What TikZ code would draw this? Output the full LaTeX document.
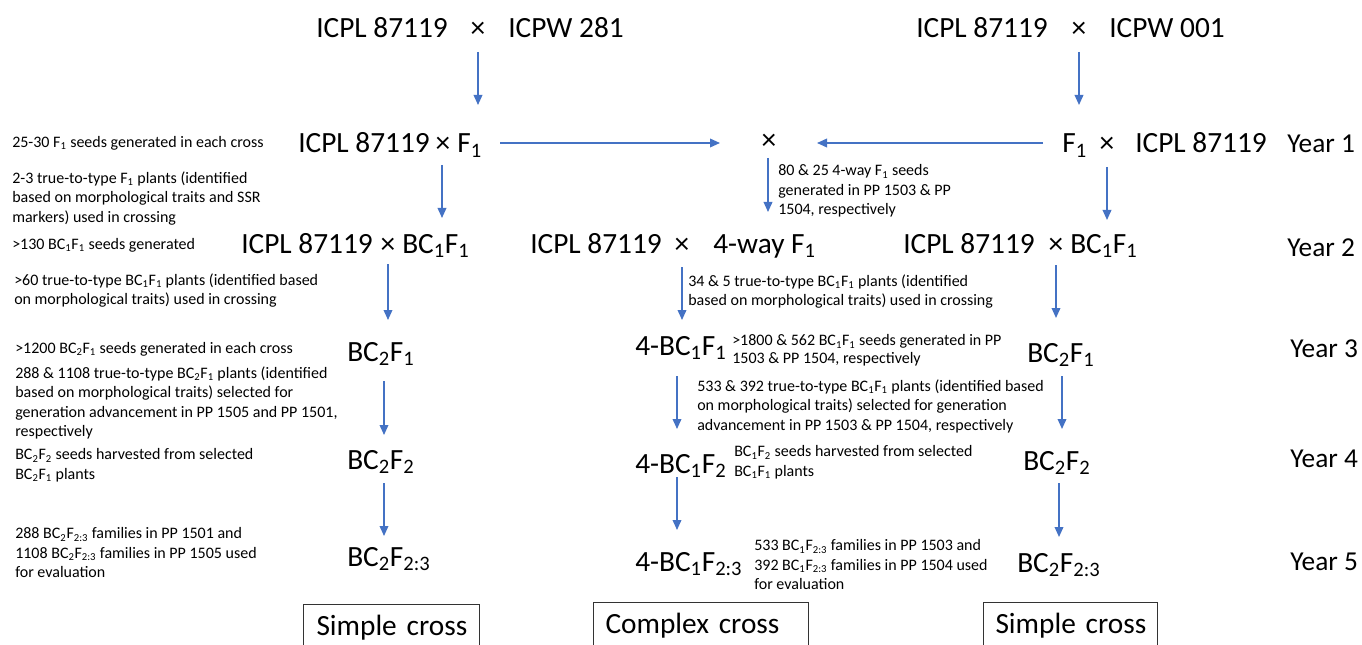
\documentclass[tikz,border=0pt]{standalone}
\usepackage{fontspec}
\setmainfont{Carlito}
\usetikzlibrary{arrows.meta,calc}
\definecolor{arrowblue}{HTML}{4472C4}
\newcommand\sbs[1]{\textsubscript{#1}}
\begin{document}
\begin{tikzpicture}[x=0.75pt,y=-0.75pt,
  big/.style={inner sep=0pt,anchor=base west,font=\fontsize{22pt}{26pt}\selectfont},
  bigx/.style={big,anchor=base},
  yr/.style={inner sep=0pt,anchor=base west,font=\fontsize{20.5pt}{24pt}\selectfont},
  note/.style={inner sep=0pt,anchor=north west,align=left,font=\fontsize{12pt}{14.5pt}\selectfont,execute at begin node=\strut},
  notesm/.style={note,font=\fontsize{12pt}{13.5pt}\selectfont},
  arr/.style={draw=arrowblue,line width=1.1pt,-{Triangle[length=7.5pt,width=6.5pt]}},
  boxlab/.style={draw=black!80,line width=0.75pt,anchor=north west,inner xsep=0pt,inner ysep=3pt,text height=20.25pt,text depth=22.5pt,align=left,font=\fontsize{22pt}{26pt}\selectfont}
]
\useasboundingbox (0,0) rectangle (1362,645);
\clip (0,0) rectangle (1362,645);
% Row 0
\node[big] (A0L) at (316,38) {ICPL 87119};
\node[bigx] (X0L) at (478,38) {×};
\node[big] (B0L) at (508,38) {ICPW 281};
\node[big] (A0R) at (916,38) {ICPL 87119};
\node[bigx] (X0R) at (1079,38) {×};
\node[big] (B0R) at (1109,38) {ICPW 001};
% Row 1
\node[big] (A1L) at (298,153) {ICPL 87119};
\node[bigx] (X1L) at (443,153) {×};
\node[big] (B1L) at (457,153) {F\sbs{1}};
\node[bigx] (XM) at (769,150) {×};
\node[big] (F1R) at (1062,153) {F\sbs{1}};
\node[bigx] (X1R) at (1107,153) {×};
\node[big] (A1R) at (1135,153) {ICPL 87119};
\node[yr] (Y1) at (1287,153) {Year 1};
% Row 2
\node[big] (A2L) at (241,253) {ICPL 87119};
\node[bigx] (X2L) at (388,253) {×};
\node[big] (B2L) at (402,253) {BC\sbs{1}F\sbs{1}};
\node[big] (A2M) at (530,253) {ICPL 87119};
\node[bigx] (X2M) at (682,253) {×};
\node[big] (B2M) at (713,253) {4-way F\sbs{1}};
\node[big] (A2R) at (903,253) {ICPL 87119};
\node[bigx] (X2R) at (1056,253) {×};
\node[big] (B2R) at (1070,253) {BC\sbs{1}F\sbs{1}};
\node[yr] (Y2) at (1287,257) {Year 2};
% Row 3
\node[big] (L3) at (347,361) {BC\sbs{2}F\sbs{1}};
\node[big] (M3) at (635,355) {4-BC\sbs{1}F\sbs{1}};
\node[big] (R3) at (1027,362) {BC\sbs{2}F\sbs{1}};
\node[yr] (Y3) at (1290,357) {Year 3};
% Row 4
\node[big] (L4) at (347,469) {BC\sbs{2}F\sbs{2}};
\node[big] (M4) at (635,473) {4-BC\sbs{1}F\sbs{2}};
\node[big] (R4) at (1023,470) {BC\sbs{2}F\sbs{2}};
\node[yr] (Y4) at (1290,467) {Year 4};
% Row 5
\node[big] (L5) at (347,566) {BC\sbs{2}F\sbs{2:3}};
\node[big] (M5) at (635,571) {4-BC\sbs{1}F\sbs{2:3}};
\node[big] (R5) at (1017,572) {BC\sbs{2}F\sbs{2:3}};
\node[yr] (Y5) at (1290,570) {Year 5};
% Boxes
\node[boxlab,text width=132pt] (boxL) at (303,604) {\hspace*{9.75pt}Simple cross};
\node[boxlab,text width=161.25pt] (boxM) at (593,602) {\hspace*{9pt}Complex cross};
\node[boxlab,text width=130.5pt] (boxR) at (983,602) {\hspace*{9pt}Simple cross};
% Notes left
\node[note] (S1) at (12,133.5) {25-30 F\sbs{1} seeds generated in each cross};
\node[note] (S2) at (12,171.5) {2-3 true-to-type F\sbs{1} plants (identified\\based on morphological traits and SSR\\markers) used in crossing};
\node[note] (S3) at (12,235.5) {>130 BC\sbs{1}F\sbs{1} seeds generated};
\node[note] (S4) at (14,273.5) {>60 true-to-type BC\sbs{1}F\sbs{1} plants (identified based\\on morphological traits) used in crossing};
\node[note] (S5) at (15,339.5) {>1200 BC\sbs{2}F\sbs{1} seeds generated in each cross};
\node[note] (S6) at (15,366.5) {288 \& 1108 true-to-type BC\sbs{2}F\sbs{1} plants (identified\\based on morphological traits) selected for\\generation advancement in PP 1505 and PP 1501,\\respectively};
\node[note] (S7) at (15,448.5) {BC\sbs{2}F\sbs{2} seeds harvested from selected\\BC\sbs{2}F\sbs{1} plants};
\node[note] (S8) at (15,527.5) {288 BC\sbs{2}F\sbs{2:3} families in PP 1501 and\\1108 BC\sbs{2}F\sbs{2:3} families in PP 1505 used\\for evaluation};
% Notes middle
\node[note] (N1) at (778,164.5) {80 \& 25 4-way F\sbs{1} seeds\\generated in PP 1503 \& PP\\1504, respectively};
\node[note] (N2) at (688,274.5) {34 \& 5 true-to-type BC\sbs{1}F\sbs{1} plants (identified\\based on morphological traits) used in crossing};
\node[notesm] (N3) at (732,334.4) {>1800 \& 562 BC\sbs{1}F\sbs{1} seeds generated in PP\\1503 \& PP 1504, respectively};
\node[note] (N4) at (697,379.5) {533 \& 392 true-to-type BC\sbs{1}F\sbs{1} plants (identified based\\on morphological traits) selected for generation\\advancement in PP 1503 \& PP 1504, respectively};
\node[note] (N5) at (734,445.5) {BC\sbs{1}F\sbs{2} seeds harvested from selected\\BC\sbs{1}F\sbs{1} plants};
\node[note] (N6) at (754,539.5) {533 BC\sbs{1}F\sbs{2:3} families in PP 1503 and\\392 BC\sbs{1}F\sbs{2:3} families in PP 1504 used\\for evaluation};
% Arrows
\draw[arr] ($(X0L.base)+(0,14)$) -- ++(0,53);
\draw[arr] ($(X0R.base)+(0,14)$) -- ++(0,53);
\draw[arr] ($(X1L.base)+(-1,12)$) -- ++(0,53);
\draw[arr] ($(XM.base)+(-1,8)$) -- ++(0,54);
\draw[arr] ($(X1R.base)+(0,14)$) -- ++(0,53);
\draw[arr] ($(XM.base)+(-269,-7)$) -- ($(XM.base)+(-49,-7)$);
\draw[arr] ($(XM.base)+(274,-7)$) -- ($(XM.base)+(48,-7)$);
\draw[arr] ($(X2L.base)+(0,11)$) -- ++(0,56);
\draw[arr] ($(X2M.base)+(0,14)$) -- ++(0,53);
\draw[arr] ($(X2R.base)+(0,12)$) -- ++(0,53);
\draw[arr] ($(L3.base west)+(37,20)$) -- ++(0,54);
\draw[arr] ($(M3.base west)+(42,21)$) -- ++(0,53);
\draw[arr] ($(R3.base west)+(35,14)$) -- ++(0,53);
\draw[arr] ($(L4.base west)+(37,14)$) -- ++(0,53);
\draw[arr] ($(M4.base west)+(42,4)$) -- ++(0,53);
\draw[arr] ($(R4.base west)+(36,13)$) -- ++(0,54);
\end{tikzpicture}
\end{document}
